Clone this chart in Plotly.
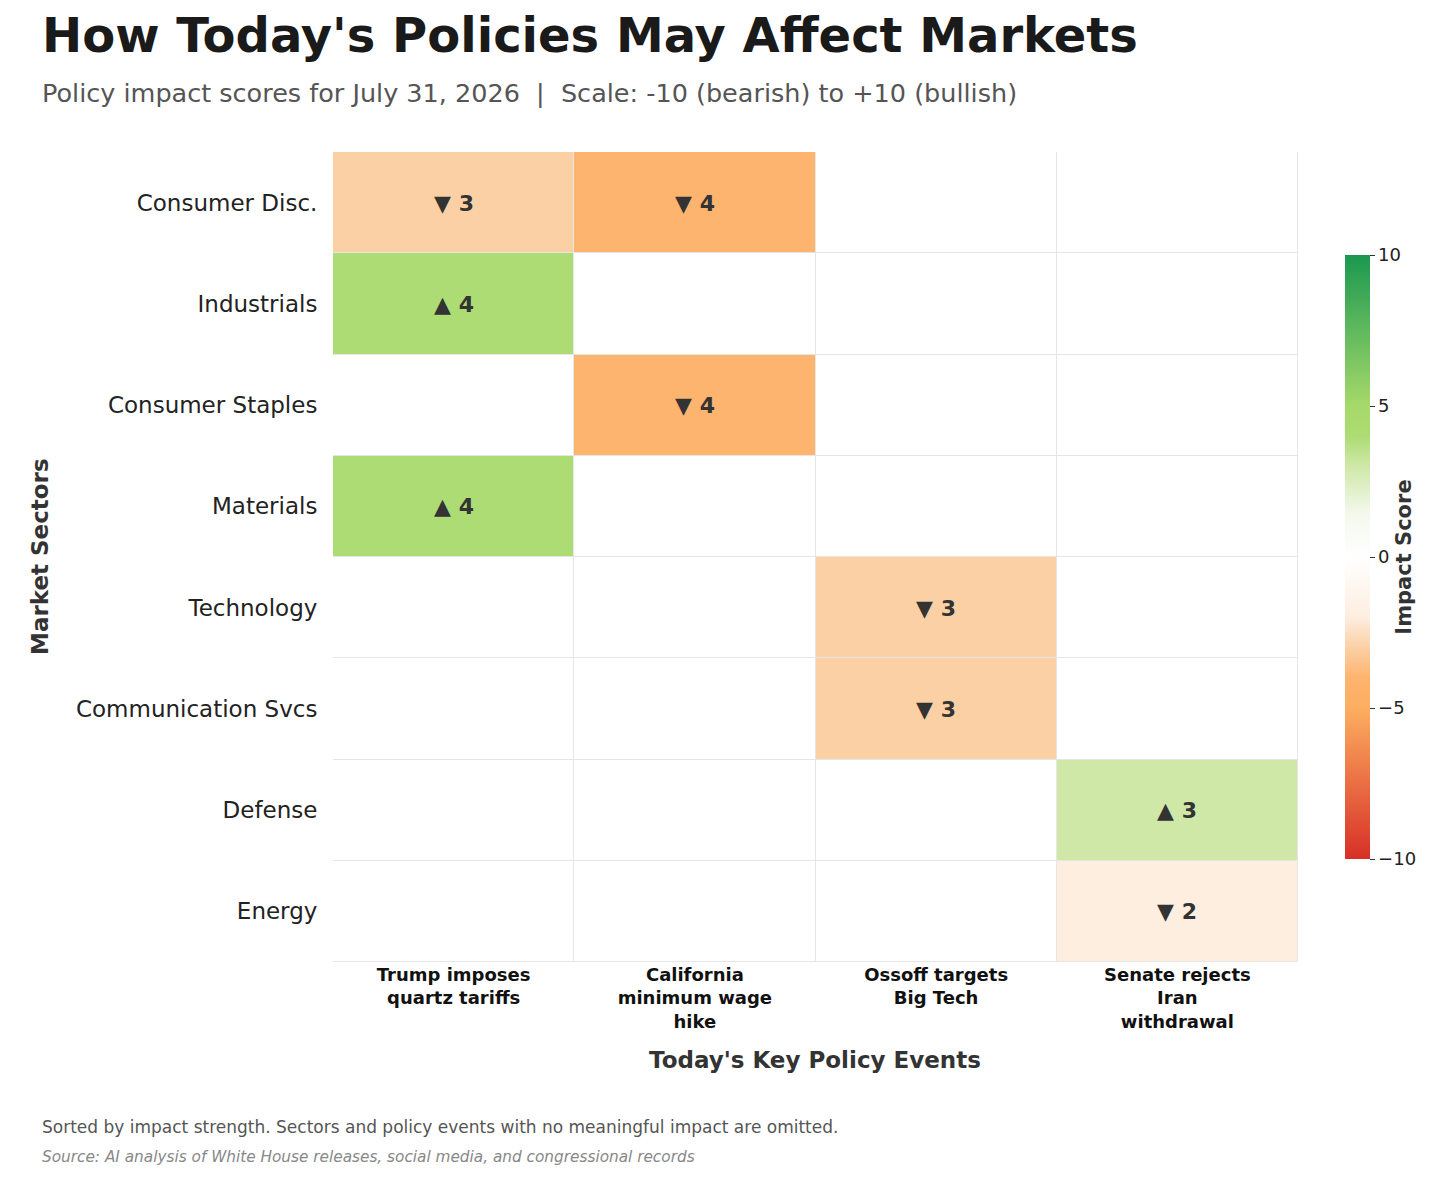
from plotly import graph_objects

# data
sectors = ["Consumer Disc.", "Industrials", "Consumer Staples", "Materials",
           "Technology", "Communication Svcs", "Defense", "Energy"]
events = ["<b>Trump imposes<br>quartz tariffs</b>", "<b>California<br>minimum wage<br>hike</b>",
          "<b>Ossoff targets<br>Big Tech</b>", "<b>Senate rejects<br>Iran<br>withdrawal</b>"]
scores = [
    [-3, -4, 0, 0],
    [4, 0, 0, 0],
    [0, -4, 0, 0],
    [4, 0, 0, 0],
    [0, 0, -3, 0],
    [0, 0, -3, 0],
    [0, 0, 0, 3],
    [0, 0, 0, -2],
]

labels = []
for row in scores:
    r = []
    for v in row:
        if v > 0:
            r.append(f"<b>▲ {v}</b>")
        elif v < 0:
            r.append(f"<b>▼ {abs(v)}</b>")
        else:
            r.append("")
    labels.append(r)

colorscale = [
    [0.0, "#d73027"], [0.25, "#fdae61"], [0.3, "#fdb46e"], [0.35, "#fbd0a5"],
    [0.4, "#fdeee0"], [0.5, "#ffffff"], [0.57, "#f4f9ee"], [0.65, "#cfe8a8"],
    [0.7, "#addc74"], [0.75, "#a6d96a"], [1.0, "#1a9850"],
]

W, H, OFF = 1456, 1178, 8


def px(x):
    return (x - OFF) / W


def py(y):
    return 1 - (y - OFF) / H


fig = graph_objects.Figure()
fig.add_trace(graph_objects.Heatmap(
    z=scores, x=events, y=sectors, text=labels, texttemplate="%{text}",
    textfont=dict(size=22, color="#333333", family="DejaVu Sans"),
    zmin=-10, zmax=10, colorscale=colorscale, xgap=1, ygap=1,
    hoverinfo="skip",
    colorbar=dict(x=px(1335), xanchor="left", y=py(557), yanchor="middle", len=0.53,
                  thickness=25, outlinewidth=0, tickvals=[10, 5, 0, -5, -10],
                  ticks="outside", ticklen=5, tickcolor="#333",
                  tickfont=dict(size=18, color="#222", family="DejaVu Sans"),
                  title=dict(text="<b>Impact Score</b>", side="right",
                             font=dict(size=21, color="#333", family="DejaVu Sans"))),
))

fig.update_layout(
    width=W, height=H, autosize=False,
    margin=dict(l=0, r=0, t=0, b=0),
    paper_bgcolor="white", plot_bgcolor="#e6e6e6",
    font=dict(family="DejaVu Sans", color="#222"),
)
fig.update_xaxes(domain=[px(333), px(1298)], side="bottom", showgrid=False,
                 tickfont=dict(size=18, color="#111", family="DejaVu Sans"),
                 ticks="", showline=False)
fig.update_yaxes(domain=[py(962), py(152)], autorange="reversed", showgrid=False,
                 tickfont=dict(size=23, color="#222"), ticks="", ticksuffix="  ")

ann = [
    dict(x=40, y=35, text="<b>How Today's Policies May Affect Markets</b>",
         size=48, color="#1a1a1a"),
    dict(x=40, y=93, text="Policy impact scores for July 31, 2026  |  Scale: -10 (bearish) to +10 (bullish)",
         size=25.5, color="#555555"),
    dict(x=40, y=1127, text="Sorted by impact strength. Sectors and policy events with no meaningful impact are omitted.",
         size=17, color="#555555"),
    dict(x=40, y=1157, text="<i>Source: AI analysis of White House releases, social media, and congressional records</i>",
         size=15.3, color="#888888"),
]
for a in ann:
    fig.add_annotation(x=px(a["x"]), y=py(a["y"]), xref="paper", yref="paper",
                       xanchor="left", yanchor="middle", showarrow=False, text=a["text"],
                       font=dict(size=a["size"], color=a["color"]))
fig.add_annotation(x=px(815), y=py(1075), xref="paper", yref="paper",
                   showarrow=False, text="<b>Today's Key Policy Events</b>",
                   font=dict(size=23, color="#333"))
fig.add_annotation(x=px(25), y=py(557), xref="paper", yref="paper",
                   showarrow=False, textangle=-90, text="<b>Market Sectors</b>",
                   font=dict(size=23, color="#333"))

fig.write_html("out.html")
